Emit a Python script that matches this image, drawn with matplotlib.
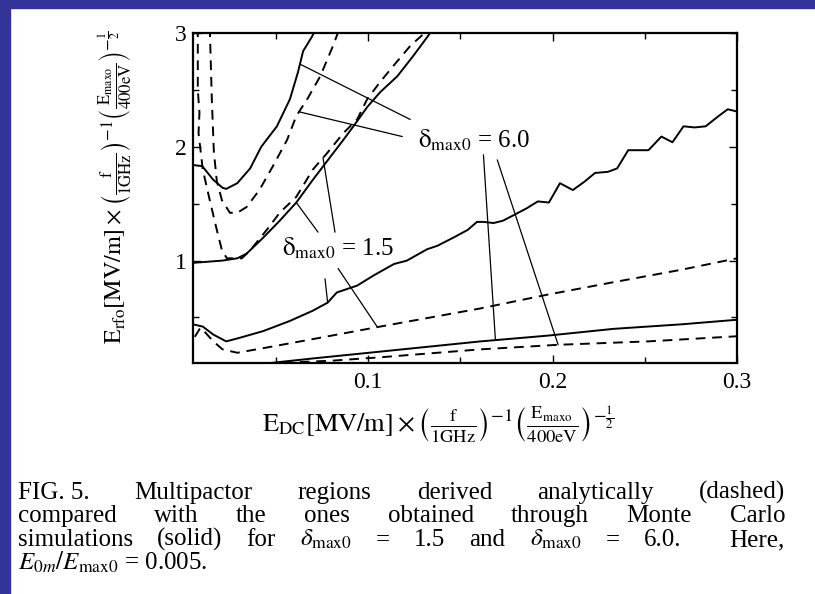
import matplotlib
matplotlib.use('Agg')
import matplotlib.pyplot as plt
from matplotlib.patches import Rectangle
from matplotlib.ticker import MultipleLocator
import numpy as np

plt.rcParams['font.family'] = ['Liberation Serif', 'DejaVu Serif']
plt.rcParams['mathtext.fontset'] = 'stix'

# Monte Carlo boundaries (solid)
s1_x = [0.005, 0.010, 0.016, 0.021, 0.023, 0.029, 0.036, 0.042, 0.0505, 0.0576, 0.062, 0.0647, 0.0696, 0.072]
s1_y = [1.84, 1.83, 1.71, 1.64, 1.63, 1.68, 1.81, 2.00, 2.18, 2.42, 2.66, 2.84, 2.97, 3.05]

s2_x = [0.005, 0.021, 0.029, 0.034, 0.043, 0.052, 0.061, 0.070, 0.078, 0.0865, 0.092, 0.0995, 0.1065, 0.1158, 0.1245, 0.130, 0.135]
s2_y = [0.98, 1.00, 1.02, 1.06, 1.20, 1.35, 1.51, 1.71, 1.88, 2.06, 2.18, 2.35, 2.48, 2.62, 2.80, 2.92, 3.03]

s3_x = [0.005, 0.0103, 0.016, 0.023, 0.030, 0.043, 0.0576, 0.070, 0.078, 0.083, 0.094, 0.103, 0.114, 0.121,
        0.132, 0.1375, 0.146, 0.154, 0.159, 0.1625, 0.168, 0.173, 0.179, 0.186, 0.192, 0.198, 0.204, 0.211,
        0.217, 0.223, 0.230, 0.235, 0.241, 0.252, 0.259, 0.265, 0.271, 0.277, 0.283, 0.290, 0.295, 0.300]
s3_y = [0.44, 0.42, 0.35, 0.29, 0.32, 0.38, 0.47, 0.56, 0.63, 0.72, 0.78, 0.87, 0.97, 1.00,
        1.10, 1.13, 1.20, 1.27, 1.34, 1.34, 1.33, 1.35, 1.40, 1.46, 1.52, 1.51, 1.68, 1.62,
        1.69, 1.77, 1.78, 1.81, 1.97, 1.97, 2.09, 2.04, 2.18, 2.17, 2.18, 2.27, 2.33, 2.31]

s4_x = [0.040, 0.047, 0.070, 0.1065, 0.161, 0.197, 0.233, 0.270, 0.300]
s4_y = [0.08, 0.10, 0.14, 0.20, 0.29, 0.34, 0.40, 0.44, 0.48]

# analytic boundaries (dashed)
d1_x = [0.0141, 0.0152, 0.0163, 0.0179, 0.0207, 0.025, 0.029, 0.034, 0.041, 0.048, 0.056, 0.061,
        0.067, 0.074, 0.081, 0.084]
d1_y = [3.05, 2.42, 1.96, 1.70, 1.53, 1.42, 1.42, 1.47, 1.62, 1.82, 2.06, 2.27,
        2.42, 2.62, 2.89, 3.02]

d2_x = [0.0076, 0.0076, 0.0085, 0.0080, 0.0103, 0.0141, 0.0179, 0.0207, 0.0234, 0.0315, 0.036, 0.045, 0.052,
        0.061, 0.070, 0.078, 0.0865, 0.094, 0.0995, 0.1065, 0.1136, 0.123, 0.132]
d2_y = [3.05, 2.50, 2.30, 2.12, 1.80, 1.53, 1.27, 1.09, 1.02, 1.02, 1.09, 1.27, 1.42,
        1.56, 1.80, 1.95, 2.12, 2.24, 2.42, 2.57, 2.71, 2.89, 3.02]

d3_x = [0.006, 0.009, 0.011, 0.016, 0.021, 0.029, 0.043, 0.070, 0.1065, 0.161, 0.197, 0.233, 0.270, 0.300]
d3_y = [0.33, 0.41, 0.38, 0.29, 0.22, 0.19, 0.23, 0.31, 0.42, 0.58, 0.70, 0.81, 0.92, 1.02]

d4_x = [0.045, 0.050, 0.080, 0.1065, 0.161, 0.203, 0.252, 0.300]
d4_y = [0.09, 0.10, 0.12, 0.15, 0.22, 0.26, 0.29, 0.335]

caption = [
    ["FIG. 5.", "Multipactor", "regions", "derived", "analytically", "(dashed)"],
    ["compared", "with", "the", "ones", "obtained", "through", "Monte", "Carlo"],
    ["simulations", "(solid)", "for", r"$\delta_{\mathrm{max0}}$", "=", "1.5", "and",
     r"$\delta_{\mathrm{max0}}$", "=", "6.0.", "", "Here,"],
]
caption_last = r"$E_{0m}/E_{\mathrm{max0}}$ = 0.005."

fig = plt.figure(figsize=(8.15, 5.94), dpi=100)
fig.patch.set_facecolor('white')
blue = '#333399'
fig.patches.append(Rectangle((0, 0), 10 / 815, 1, transform=fig.transFigure, color=blue, zorder=0))
fig.patches.append(Rectangle((0, 1 - 8 / 594), 1, 8 / 594, transform=fig.transFigure, color=blue, zorder=0))

ax = fig.add_axes([193 / 815, 1 - 363 / 594, 544 / 815, 330 / 594])
lw = 1.4
dash = (0, (5, 3.5))
ax.plot(s1_x, s1_y, color='black', lw=lw)
ax.plot(s2_x, s2_y, color='black', lw=lw)
ax.plot(s3_x, s3_y, color='black', lw=lw)
ax.plot(s4_x, s4_y, color='black', lw=lw)
ax.plot(d1_x, d1_y, color='black', lw=lw, linestyle=dash)
ax.plot(d2_x, d2_y, color='black', lw=lw, linestyle=dash)
ax.plot(d3_x, d3_y, color='black', lw=lw, linestyle=dash)
ax.plot(d4_x, d4_y, color='black', lw=lw, linestyle=dash)

ax.set_xlim(0.005, 0.3)
ax.set_ylim(0.1, 3)
ax.xaxis.set_minor_locator(MultipleLocator(0.05))
ax.yaxis.set_minor_locator(MultipleLocator(0.5))
ax.set_xticks([0.1, 0.2, 0.3])
ax.set_xticklabels(['0.1', '0.2', '0.3'])
ax.set_yticks([1, 2, 3])
ax.set_yticklabels(['1', '2', '3'])
ax.tick_params(which='both', direction='in', top=True, right=True, width=1)
ax.tick_params(which='major', length=6, labelsize=17)
ax.tick_params(axis='x', which='major', pad=6.5)
ax.tick_params(axis='y', which='major', pad=4.5)
ax.tick_params(which='minor', length=4)
for sp in ax.spines.values():
    sp.set_linewidth(1.6)


def leader(x0, y0, cx, cy, at):
    # thin line from near the label to a point on a curve
    ax.annotate("", xy=(at, np.interp(at, cx, cy)), xytext=(x0, y0),
                arrowprops=dict(arrowstyle='-', lw=0.9, color='black', shrinkA=0, shrinkB=0))


leader(0.1228, 2.24, s1_x, s1_y, 0.063)
leader(0.1185, 2.09, d1_x, d1_y, 0.0625)
leader(0.1625, 1.93, s4_x, s4_y, 0.169)
leader(0.170, 1.885, d4_x, d4_y, 0.203)
leader(0.0728, 1.25, s2_x, s2_y, 0.061)
leader(0.082, 1.25, d2_x, d2_y, 0.0755)
leader(0.0766, 0.84, s3_x, s3_y, 0.078)
leader(0.0837, 0.93, d3_x, d3_y, 0.105)

ax.text(0.127, 2.06, r"$\mathrm{\delta_{max0}}$ = 6.0", fontsize=18, va='center', ha='left')
ax.text(0.0533, 1.106, r"$\mathrm{\delta_{max0}}$ = 1.5", fontsize=18, va='center', ha='left')

fig.text(438 / 815, 1 - 425 / 594,
         r"$\mathrm{E_{DC}}\left[\mathrm{MV/m}\right]\times\left(\frac{\mathrm{f}}{\mathrm{1GHz}}\right)^{-1}"
         r"\left(\frac{\mathrm{E_{maxo}}}{\mathrm{400eV}}\right)^{-\frac{1}{2}}$",
         fontsize=19, ha='center', va='center')
fig.text(116 / 815, 1 - 187 / 594,
         r"$\mathrm{E_{rfo}}\left[\mathrm{MV/m}\right]\times\left(\frac{\mathrm{f}}{\mathrm{1GHz}}\right)^{-1}"
         r"\left(\frac{\mathrm{E_{maxo}}}{\mathrm{400eV}}\right)^{-\frac{1}{2}}$",
         fontsize=17.3, ha='center', va='center', rotation=90)

# justified caption
renderer = fig.canvas.get_renderer()
W = fig.bbox.width
H = fig.bbox.height
x_left, x_right = 18, 785
cap_size = 18
baselines = [499, 522, 546]
for words, yb in zip(caption, baselines):
    texts = [fig.text(0, 1 - yb / H, w, fontsize=cap_size, va='baseline', ha='left') for w in words]
    widths = [t.get_window_extent(renderer).width if w else 0 for t, w in zip(texts, words)]
    gap = ((x_right - x_left) - sum(widths)) / (len(words) - 1)
    pos = x_left
    for t, w in zip(texts, widths):
        t.set_x(pos / W)
        pos += w + gap
fig.text(x_left / W, 1 - 570 / H, caption_last, fontsize=cap_size, va='baseline', ha='left')

fig.savefig('out.png', dpi=100, facecolor='white')
